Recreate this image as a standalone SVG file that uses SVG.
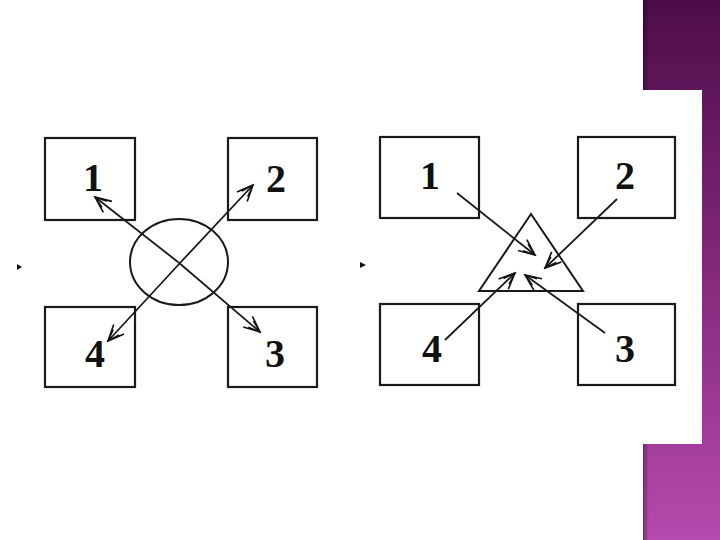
<svg xmlns="http://www.w3.org/2000/svg" width="720" height="540" viewBox="0 0 720 540">
<defs>
<linearGradient id="pg" x1="0" y1="0" x2="0" y2="1">
<stop offset="0" stop-color="#4d0c49"/>
<stop offset="0.5" stop-color="#83297b"/>
<stop offset="1" stop-color="#b64aae"/>
</linearGradient>
<linearGradient id="sh" x1="0" y1="0" x2="1" y2="0">
<stop offset="0" stop-color="#000" stop-opacity="0.35"/>
<stop offset="1" stop-color="#000" stop-opacity="0"/>
</linearGradient>
<marker id="ah" viewBox="0 0 20 20" refX="18" refY="10" markerWidth="20" markerHeight="20" markerUnits="userSpaceOnUse" orient="auto">
<path d="M2,3 L18,10 L2,17 M6,6 L18,10 L6,14" fill="none" stroke="#111" stroke-width="1.6"/>
</marker>
<style>
.box{fill:#fff;stroke:#1a1a1a;stroke-width:2.2}
.lbl{font-family:"Liberation Serif","DejaVu Serif",serif;font-weight:bold;font-size:40px;fill:#111;text-anchor:middle}
.ln{stroke:#1a1a1a;stroke-width:1.8;fill:none}
.sh{fill:none;stroke:#1a1a1a;stroke-width:2}
</style>
</defs>
<rect width="720" height="540" fill="#fff"/>
<g id="bar">
<rect x="643" y="0" width="77" height="540" fill="url(#pg)"/>
<rect x="643" y="0" width="6" height="540" fill="url(#sh)"/>
<rect x="0" y="90" width="702" height="354" fill="#fff"/>
</g>
<g id="bullets" fill="#111">
<path d="M17,264 L22,267 L17,270 Z"/>
<path d="M360,262 L366,265 L360,268 Z"/>
</g>
<g id="left">
<g id="L1"><rect class="box" x="45" y="138" width="90" height="82"/><text class="lbl" x="93" y="191">1</text></g>
<g id="L2"><rect class="box" x="228" y="138" width="89" height="82"/><text class="lbl" x="276" y="192">2</text></g>
<g id="L4"><rect class="box" x="45" y="307" width="90" height="80"/><text class="lbl" x="95" y="367">4</text></g>
<g id="L3"><rect class="box" x="228" y="307" width="89" height="80"/><text class="lbl" x="275" y="367">3</text></g>
<g id="Lcircle"><ellipse class="sh" cx="179" cy="262" rx="49" ry="43"/></g>
</g>
<g id="right">
<g id="R1"><rect class="box" x="380" y="137" width="99" height="81"/><text class="lbl" x="430" y="189">1</text></g>
<g id="R2"><rect class="box" x="578" y="137" width="97" height="81"/><text class="lbl" x="625" y="189">2</text></g>
<g id="R4"><rect class="box" x="380" y="304" width="99" height="81"/><text class="lbl" x="432" y="362">4</text></g>
<g id="R3"><rect class="box" x="578" y="304" width="97" height="81"/><text class="lbl" x="625" y="362">3</text></g>
<g id="Rtriangle"><polygon class="sh" points="531,214 479,291 583,291"/></g>
</g>
<g id="connectors">
<line class="ln" x1="178" y1="262" x2="95" y2="197" marker-end="url(#ah)"/>
<line class="ln" x1="178" y1="262" x2="260" y2="332" marker-end="url(#ah)"/>
<line class="ln" x1="180" y1="263" x2="253" y2="185" marker-end="url(#ah)"/>
<line class="ln" x1="180" y1="263" x2="108" y2="341" marker-end="url(#ah)"/>
<line class="ln" x1="457" y1="193" x2="535" y2="255" marker-end="url(#ah)"/>
<line class="ln" x1="617" y1="199" x2="545" y2="268" marker-end="url(#ah)"/>
<line class="ln" x1="605" y1="333" x2="525" y2="275" marker-end="url(#ah)"/>
<line class="ln" x1="445" y1="340" x2="515" y2="273" marker-end="url(#ah)"/>
</g>
</svg>
